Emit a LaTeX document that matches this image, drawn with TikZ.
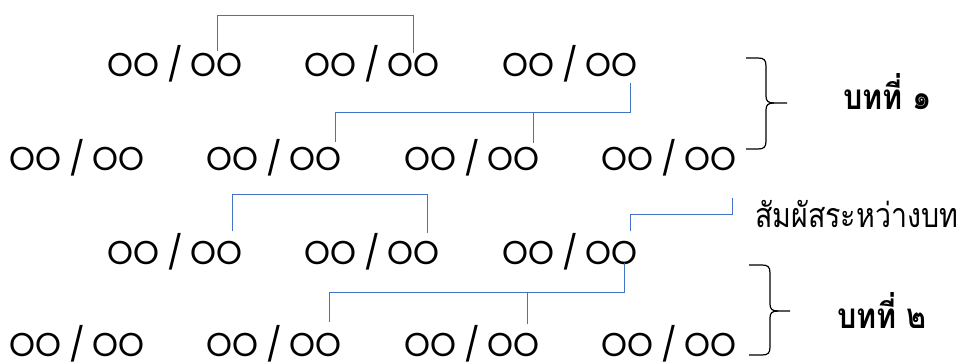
\documentclass[tikz,border=0pt]{standalone}
\usepackage{fontspec}
\setmainfont{Poppins}
\newfontfamily\thaifont[Script=Thai,FakeStretch=0.84]{Loma}
\newfontfamily\thaibold[Script=Thai,FakeStretch=0.87]{Loma}
\newcommand{\grouptext}{OO\hspace{8pt}/\hspace{8pt}OO}
\begin{document}
\begin{tikzpicture}[x=1pt,y=-1pt,
  grp/.style={anchor=base,inner sep=0pt,font=\fontsize{33}{33}\selectfont},
  lbl/.style={anchor=base west,inner sep=0pt,font=\thaifont\fontsize{34}{38}\selectfont},
  lblb/.style={anchor=base west,inner sep=0pt,font=\thaibold\bfseries\fontsize{35}{38}\selectfont},
  rhyme/.style={draw={rgb,255:red,68;green,114;blue,196},line width=1pt},
  bracestyle/.style={draw=black,line width=1.2pt}]
\useasboundingbox (0,0) rectangle (959,362);
% row 1
\node[grp] (r1a) at (175,76) {\grouptext};
\node[grp] (r1b) at (372,76) {\grouptext};
\node[grp] (r1c) at (570,76) {\grouptext};
% row 2
\node[grp] (r2a) at (77,170) {\grouptext};
\node[grp] (r2b) at (274,170) {\grouptext};
\node[grp] (r2c) at (472,170) {\grouptext};
\node[grp] (r2d) at (669,170) {\grouptext};
% row 3
\node[grp] (r3a) at (175,264) {\grouptext};
\node[grp] (r3b) at (372,264) {\grouptext};
\node[grp] (r3c) at (570,264) {\grouptext};
% row 4
\node[grp] (r4a) at (77,356) {\grouptext};
\node[grp] (r4b) at (274,356) {\grouptext};
\node[grp] (r4c) at (472,356) {\grouptext};
\node[grp] (r4d) at (669,356) {\grouptext};
% labels
\node[lblb] (l1) at (843,109) {บทที่ ๑};
\node[lbl] (l3) at (755,227) {สัมผัสระหว่างบท};
\node[lblb] (l2) at (837,328) {บทที่ ๒};
% rhyme connectors
\coordinate (a1) at (217,51); \coordinate (a2) at (413,15); \coordinate (a3) at (413,53);
\draw[rhyme] (a1) |- (a2) -- (a3);
\coordinate (b1) at (630,83); \coordinate (b2) at (335,112); \coordinate (b3) at (335,142);
\coordinate (b4) at (533,112); \coordinate (b5) at (533,143);
\draw[rhyme] (b1) |- (b2) -- (b3);
\draw[rhyme] (b4) -- (b5);
\coordinate (c1) at (232,231); \coordinate (c2) at (427,194); \coordinate (c3) at (427,233);
\draw[rhyme] (c1) |- (c2) -- (c3);
\coordinate (d1) at (630,231); \coordinate (d2) at (732,214); \coordinate (d3) at (732,198);
\draw[rhyme] (d1) |- (d2) -- (d3);
\coordinate (e1) at (624,263); \coordinate (e2) at (329,292); \coordinate (e3) at (329,322);
\coordinate (e4) at (527,292); \coordinate (e5) at (527,324);
\draw[rhyme] (e1) |- (e2) -- (e3);
\draw[rhyme] (e4) -- (e5);
% braces
\draw[bracestyle] (746,58) -- (758,58) .. controls (764,58) and (766,60) .. (766,66)
  -- (766,96) .. controls (766,101) and (768,103) .. (774,103) -- (787,103);
\draw[bracestyle] (774,103) .. controls (768,103) and (766,105) .. (766,110)
  -- (766,141) .. controls (766,147) and (764,149) .. (758,149) -- (746,149);
\draw[bracestyle] (749,265) -- (762,265) .. controls (768,265) and (770,267) .. (770,273)
  -- (770,304) .. controls (770,309) and (772,311) .. (778,311) -- (790,311);
\draw[bracestyle] (778,311) .. controls (772,311) and (770,313) .. (770,318)
  -- (770,347) .. controls (770,353) and (768,355) .. (762,355) -- (749,355);
\end{tikzpicture}
\end{document}
